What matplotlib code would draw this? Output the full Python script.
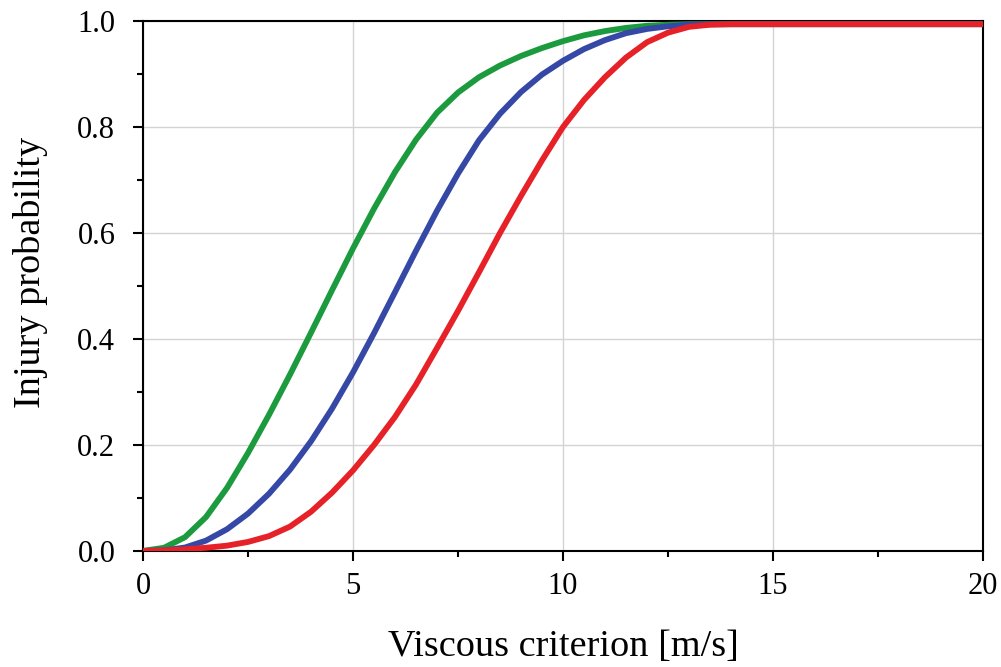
import matplotlib.pyplot as plt
from matplotlib.ticker import MultipleLocator

plt.rcParams['font.family'] = ['Liberation Serif', 'DejaVu Serif']

# values
x = [0, 0.5, 1.0, 1.5, 2.0, 2.5, 3.0, 3.5, 4.0, 4.5, 5.0, 5.5, 6.0, 6.5, 7.0,
     7.5, 8.0, 8.5, 9.0, 9.5, 10.0, 10.5, 11.0, 11.5, 12.0, 12.5, 13.0, 13.5,
     14.0, 16.0, 18.0, 20.0]
green = [0, 0.006, 0.026, 0.064, 0.119, 0.185, 0.257, 0.333, 0.412, 0.492,
         0.571, 0.646, 0.715, 0.776, 0.827, 0.865, 0.894, 0.916, 0.934, 0.949,
         0.962, 0.973, 0.981, 0.987, 0.991, 0.993, 0.994, 0.994, 0.994, 0.994,
         0.994, 0.994]
blue = [0, 0.001, 0.0065, 0.0195, 0.041, 0.0705, 0.108, 0.1535, 0.207,
        0.2685, 0.337, 0.411, 0.4885, 0.5665, 0.642, 0.712, 0.775, 0.825,
        0.866, 0.899, 0.925, 0.947, 0.964, 0.977, 0.985, 0.990, 0.993, 0.994,
        0.994, 0.994, 0.994, 0.994]
red = [0, 0.001, 0.003, 0.006, 0.010, 0.017, 0.028, 0.046, 0.074, 0.110,
       0.152, 0.200, 0.253, 0.314, 0.383, 0.453, 0.526, 0.600, 0.670, 0.737,
       0.800, 0.851, 0.894, 0.931, 0.960, 0.978, 0.989, 0.993, 0.994, 0.994,
       0.994, 0.994]

fig, ax = plt.subplots(figsize=(10.01, 6.67), dpi=100)
fig.subplots_adjust(left=0.1429, right=0.982, bottom=0.174, top=0.9685)

ax.plot(x, green, color='#1b9a3e', lw=4.2, solid_joinstyle='round', zorder=3)
ax.plot(x, blue, color='#3548a6', lw=4.2, solid_joinstyle='round', zorder=3)
ax.plot(x, red, color='#e62127', lw=4.2, solid_joinstyle='round', zorder=3)

ax.set_xlim(0, 20)
ax.set_ylim(0, 1.0)
ax.xaxis.set_major_locator(MultipleLocator(5))
ax.xaxis.set_minor_locator(MultipleLocator(2.5))
ax.yaxis.set_major_locator(MultipleLocator(0.2))
ax.yaxis.set_minor_locator(MultipleLocator(0.1))
ax.yaxis.set_major_formatter(plt.FormatStrFormatter('%.1f'))

ax.grid(True, which='major', color='#d3d3d3', lw=1.0, zorder=0)
for s in ax.spines.values():
    s.set_linewidth(1.5)
ax.tick_params(which='both', direction='out', width=1.5, labelsize=22,
               top=False, right=False)
ax.tick_params(which='major', length=7)
ax.tick_params(which='minor', length=4)
ax.tick_params(axis='x', which='major', pad=8)
ax.tick_params(axis='y', which='major', pad=13)

ax.set_xlabel('Viscous criterion [m/s]', fontsize=27.5, labelpad=21)
ax.set_ylabel('Injury probability', fontsize=27.5, labelpad=19)
ax.yaxis.set_label_coords(-0.113, 0.525)

plt.savefig('out.png', dpi=100)
